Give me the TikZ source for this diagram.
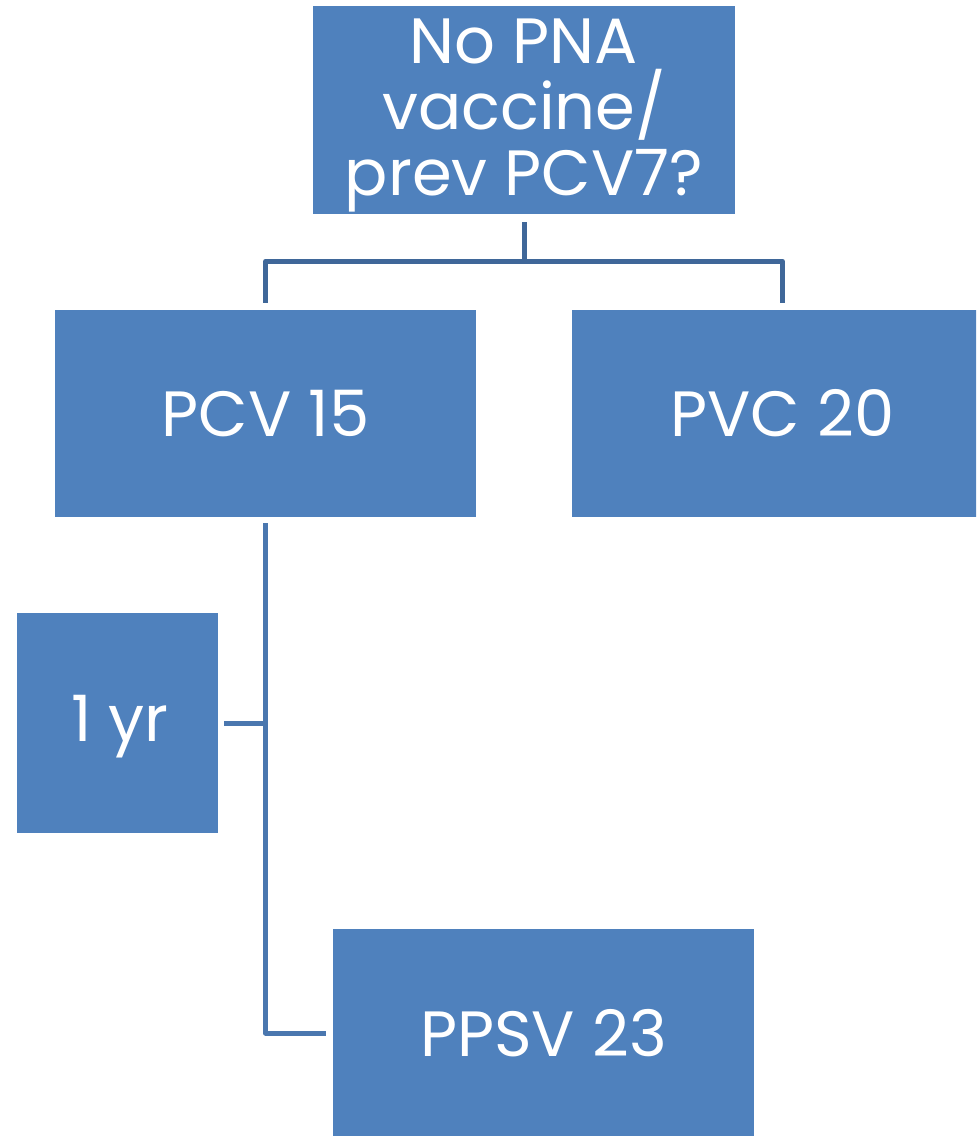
\documentclass[tikz,border=0pt]{standalone}
\usepackage{fontspec}
\setmainfont{Poppins}
\usetikzlibrary{calc}
\definecolor{boxblue}{HTML}{4F81BD}
\definecolor{linkdark}{HTML}{3F6799}
\definecolor{linkmid}{HTML}{4A77AF}
\tikzset{
  vbox/.style={rectangle, fill=boxblue, draw=none, text=white, align=center,
    inner sep=0pt, font=\fontsize{32}{33}\selectfont},
  linkA/.style={draw=linkdark, line width=2.5pt, line join=round},
  linkB/.style={draw=linkmid, line width=2.5pt, line join=round}
}
\begin{document}
\begin{tikzpicture}[x=0.5pt, y=-0.5pt]
  \useasboundingbox (0,0) rectangle (976,1136);
  \begin{scope}
    \clip (0,0) rectangle (976,1136);
    % boxes (sizes in px: 422 x 208)
    \node[vbox, minimum width=211pt, minimum height=104pt] (top) at (524,110) {};
    \node[white, align=center, inner sep=0pt, font=\fontsize{32}{33}\selectfont]
      (toptext) at (524,115) {No PNA\\vaccine/\\prev PCV7?};
    \node[vbox, minimum width=210.5pt, minimum height=103.5pt] (pcv) at (265.5,413.5) {PCV 15};
    \node[vbox, minimum width=210.5pt, minimum height=103.5pt] (pvc) at (782.5,413.5) {PVC 20};
    \node[vbox, minimum width=100.5pt, minimum height=110pt] (yr) at (117.5,723) {};
    \node[white, inner sep=0pt, font=\fontsize{32}{33}\selectfont] (yrtext) at (120,727) {1 yr};
    \node[vbox, minimum width=210.5pt, minimum height=104pt] (ppsv) at (543.5,1033) {PPSV 23};
  \end{scope}
  % branch from the question to both vaccines
  \coordinate (fork) at ($(top.south)+(0,47)$);
  \draw[linkA] ($(top.south)+(0,8)$) -- (fork);
  \draw[linkA] (fork) -| ($(pcv.north)+(0,-7)$);
  \draw[linkA] (fork) -| ($(pvc.north)+(0,-7)$);
  % PCV 15 followed by PPSV 23 after 1 yr
  \draw[linkB] ($(pcv.south)+(0,6)$) |- ($(ppsv.west)+(-7,0)$);
  \draw[linkB] ($(yr.east)+(6,0)$) -- ($(yr.east)+(48,0)$);
\end{tikzpicture}
\end{document}
